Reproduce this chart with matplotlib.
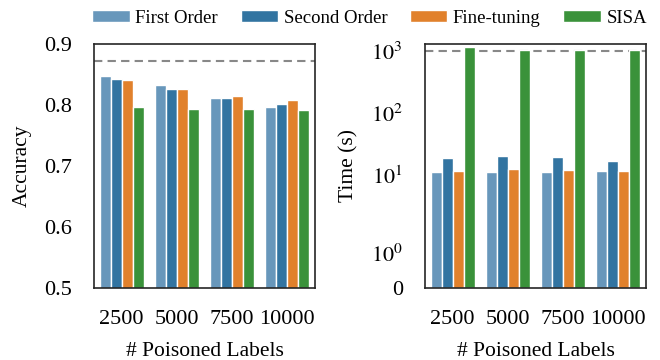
import matplotlib
matplotlib.use("Agg")
import matplotlib.pyplot as plt
import numpy as np

plt.rcParams['font.family'] = ['Liberation Serif', 'DejaVu Serif']
plt.rcParams['mathtext.fontset'] = 'stix'

labels = ['2500', '5000', '7500', '10000']
methods = ['First Order', 'Second Order', 'Fine-tuning', 'SISA']
colors = ['#6897bb', '#3274a1', '#e1812c', '#3a923a']

acc = {
    'First Order': [0.848, 0.833, 0.812, 0.797],
    'Second Order': [0.842, 0.826, 0.812, 0.802],
    'Fine-tuning': [0.841, 0.827, 0.814, 0.809],
    'SISA': [0.796, 0.794, 0.794, 0.792],
}
acc_ref = 0.8725

times = {
    'First Order': [11.5, 11.5, 11.5, 11.7],
    'Second Order': [18.8, 20.8, 19.5, 17.0],
    'Fine-tuning': [11.6, 12.8, 12.3, 12.0],
    'SISA': [1150, 1060, 1060, 1060],
}
time_ref = 1000

fig = plt.figure(figsize=(6.6, 3.6), dpi=100)
ax1 = fig.add_axes([94/660, 72/360, 221/660, 244/360])
ax2 = fig.add_axes([425/660, 72/360, 221/660, 244/360])

x = np.arange(len(labels))
w = 0.2
for i, m in enumerate(methods):
    off = (i - 1.5) * w
    ax1.bar(x + off, acc[m], w, color=colors[i], edgecolor='white', linewidth=1, label=m)
    ax2.bar(x + off, times[m], w, color=colors[i], edgecolor='white', linewidth=1)

ax1.axhline(acc_ref, color='#888888', ls='--', lw=1.5, dashes=(4, 2.5), zorder=0)
ax2.axhline(time_ref, color='#888888', ls='--', lw=1.5, dashes=(4, 2.5), zorder=0)

ax1.set_ylim(0.5, 0.9)
ax1.set_yticks([0.5, 0.6, 0.7, 0.8, 0.9])
ax1.set_ylabel('Accuracy', fontsize=15.5, labelpad=9)

ax2.set_yscale('symlog', linthresh=2, linscale=1)
ax2.set_ylim(0, 1300)
ax2.set_yticks([0, 1, 10, 100, 1000])
ax2.set_yticklabels(['0', '$10^0$', '$10^1$', '$10^2$', '$10^3$'])
ax2.minorticks_off()
ax2.set_ylabel('Time (s)', fontsize=15.5, labelpad=9)

for ax in (ax1, ax2):
    ax.set_xlim(-0.5, 3.5)
    ax.set_xticks(x)
    ax.set_xticklabels(labels)
    ax.tick_params(length=0, labelsize=16)
    ax.tick_params(axis='x', pad=16)
    ax.tick_params(axis='y', pad=16)
    ax.set_xlabel('# Poisoned Labels', fontsize=15.5, labelpad=9)
    for s in ax.spines.values():
        s.set_color('#262626')
        s.set_linewidth(1.2)

fig.legend(loc='upper center', bbox_to_anchor=(369.5/660, 1.02), ncol=4, frameon=False,
           prop={'size': 13.5},
           handlelength=2.0, handleheight=0.6, handletextpad=0.3,
           columnspacing=1.2)

fig.savefig('out.png', dpi=100)
